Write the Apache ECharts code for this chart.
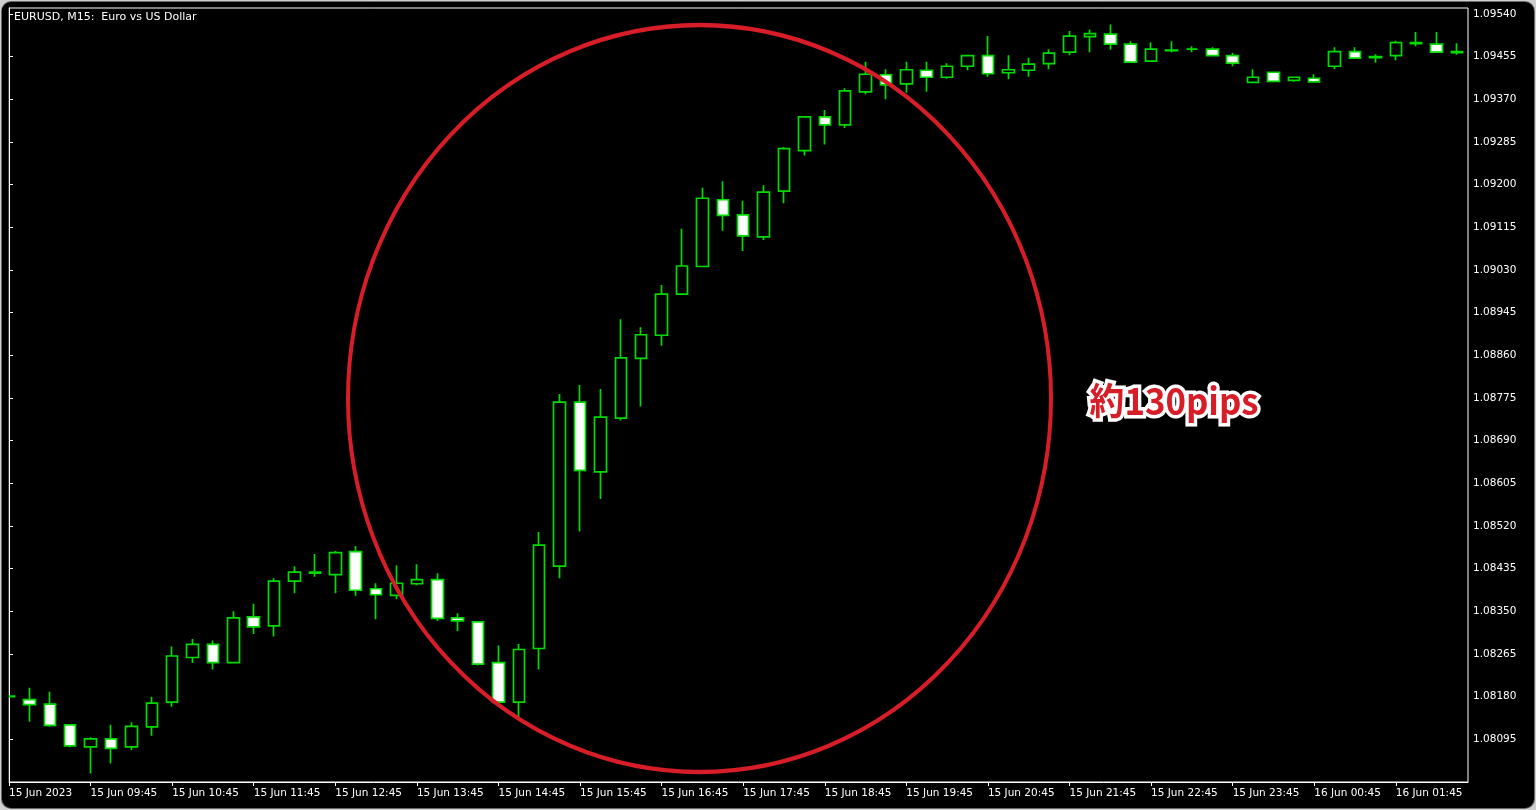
<!DOCTYPE html>
<html><head><meta charset="utf-8">
<script src="https://cdn.jsdelivr.net/npm/echarts@6/dist/echarts.min.js"></script>
<style>
html,body{margin:0;padding:0;width:1536px;height:810px;overflow:hidden;background:#cfcfcf;}
#panel{position:absolute;left:2px;top:2px;width:1532px;height:806px;background:#000;border-radius:9px;box-shadow:0 0 0 1px #6a6a6a;}
#chart{position:absolute;left:0;top:0;width:1536px;height:810px;}
</style></head><body><div id="panel"></div><div id="chart"></div>
<script>
const TITLE = 'EURUSD, M15:  Euro vs US Dollar';
const ANNOTATION = '約130pips';
// one candle per 15 minutes, from 15 Jun 08:45 to 16 Jun 02:30
const OPEN = [1.08180,1.08174,1.08165,1.08124,1.08080,1.08096,1.08080,1.08120,1.08169,1.08258,
  1.08284,1.08248,1.08339,1.08321,1.08410,1.08426,1.08423,1.08469,1.08395,1.08382,
  1.08405,1.08413,1.08337,1.08329,1.08248,1.08169,1.08276,1.08440,1.08767,1.08628,
  1.08735,1.08854,1.08900,1.08982,1.09037,1.09170,1.09140,1.09096,1.09187,1.09268,
  1.09335,1.09319,1.09385,1.09419,1.09401,1.09428,1.09414,1.09436,1.09457,1.09423,
  1.09428,1.09441,1.09464,1.09495,1.09500,1.09480,1.09446,1.09467,1.09470,1.09470,
  1.09457,1.09404,1.09424,1.09408,1.09412,1.09436,1.09465,1.09453,1.09457,1.09481,
  1.09480,1.09463];
const CLOSE = [1.08181,1.08164,1.08123,1.08082,1.08096,1.08077,1.08121,1.08167,1.08261,1.08284,
  1.08248,1.08337,1.08319,1.08410,1.08428,1.08428,1.08467,1.08392,1.08383,1.08406,
  1.08413,1.08336,1.08331,1.08245,1.08169,1.08274,1.08482,1.08767,1.08631,1.08737,
  1.08855,1.08901,1.08982,1.09038,1.09173,1.09139,1.09098,1.09185,1.09272,1.09335,
  1.09319,1.09387,1.09420,1.09399,1.09429,1.09414,1.09436,1.09457,1.09421,1.09429,
  1.09440,1.09462,1.09496,1.09501,1.09480,1.09444,1.09470,1.09468,1.09470,1.09457,
  1.09442,1.09414,1.09406,1.09414,1.09405,1.09465,1.09452,1.09455,1.09483,1.09483,
  1.09464,1.09465];
const LOW = [1.08179,1.08130,1.08120,1.08079,1.08027,1.08047,1.08074,1.08102,1.08160,1.08247,
  1.08234,1.08247,1.08305,1.08300,1.08386,1.08419,1.08386,1.08381,1.08334,1.08374,
  1.08402,1.08331,1.08311,1.08242,1.08161,1.08138,1.08234,1.08416,1.08509,1.08574,
  1.08730,1.08758,1.08879,1.08980,1.09036,1.09108,1.09068,1.09090,1.09163,1.09258,
  1.09280,1.09313,1.09380,1.09370,1.09383,1.09385,1.09411,1.09428,1.09415,1.09410,
  1.09415,1.09430,1.09458,1.09464,1.09469,1.09443,1.09445,1.09464,1.09464,1.09456,
  1.09436,1.09403,1.09405,1.09405,1.09404,1.09430,1.09451,1.09443,1.09448,1.09476,
  1.09463,1.09459];
const HIGH = [1.08182,1.08198,1.08190,1.08125,1.08099,1.08124,1.08129,1.08180,1.08280,1.08295,
  1.08292,1.08350,1.08365,1.08416,1.08440,1.08464,1.08470,1.08480,1.08406,1.08442,
  1.08444,1.08426,1.08346,1.08331,1.08282,1.08285,1.08508,1.08783,1.08801,1.08793,
  1.08932,1.08916,1.09000,1.09112,1.09194,1.09207,1.09168,1.09199,1.09275,1.09337,
  1.09349,1.09392,1.09445,1.09430,1.09445,1.09445,1.09442,1.09458,1.09496,1.09458,
  1.09453,1.09470,1.09506,1.09509,1.09519,1.09486,1.09484,1.09486,1.09476,1.09474,
  1.09463,1.09430,1.09425,1.09415,1.09420,1.09474,1.09474,1.09460,1.09487,1.09504,
  1.09504,1.09482];
// labels at every 4th candle (index 0, 4, 8, ...)
const X_TICK_LABELS = ['15 Jun 2023','15 Jun 09:45','15 Jun 10:45','15 Jun 11:45','15 Jun 12:45',
  '15 Jun 13:45','15 Jun 14:45','15 Jun 15:45','15 Jun 16:45','15 Jun 17:45','15 Jun 18:45',
  '15 Jun 19:45','15 Jun 20:45','15 Jun 21:45','15 Jun 22:45','15 Jun 23:45','16 Jun 00:45','16 Jun 01:45'];
const X_TICK_EVERY = 4;
const X_MAX = 71.54;
const PRICE_BASE = 1.08010;   // bottom of the price scale
const PRICE_TOP = 1.09552;    // top of the price scale
const PRICE_STEP = 0.00085;   // tick step: 1.08095, 1.08180, ... 1.09540

const GREEN = '#00dc00';
const RED = '#d71d27';
const FONT = '"DejaVu Sans", sans-serif';

const chart = echarts.init(document.getElementById('chart'), null, {renderer: 'canvas'});
const candleData = OPEN.map((o, i) => [i, o - PRICE_BASE, CLOSE[i] - PRICE_BASE, LOW[i] - PRICE_BASE, HIGH[i] - PRICE_BASE]);

chart.setOption({
  backgroundColor: 'transparent',
  animation: false,
  grid: {left: 9, right: 68, top: 8, bottom: 28, show: true, borderColor: '#ffffff', borderWidth: 1, backgroundColor: 'transparent'},
  xAxis: {
    type: 'value', min: 0, max: X_MAX, interval: X_TICK_EVERY,
    axisLine: {show: true, lineStyle: {color: '#ffffff', width: 1}},
    axisTick: {show: true, length: 4, lineStyle: {color: '#ffffff'}},
    splitLine: {show: false},
    axisLabel: {
      color: '#ffffff', fontFamily: FONT, fontSize: 10.5, align: 'left', margin: 6,
      showMaxLabel: false, showMinLabel: true,
      formatter: v => { const i = Math.round(v / X_TICK_EVERY); return (Math.abs(v - i * X_TICK_EVERY) < 1e-6 && X_TICK_LABELS[i]) ? X_TICK_LABELS[i] : ''; }
    }
  },
  yAxis: {
    type: 'value', position: 'right', min: 0, max: PRICE_TOP - PRICE_BASE, interval: PRICE_STEP,
    axisLine: {show: true, lineStyle: {color: '#ffffff', width: 1}},
    axisTick: {show: true, length: 4, lineStyle: {color: '#ffffff'}},
    splitLine: {show: false},
    axisLabel: {
      color: '#ffffff', fontFamily: FONT, fontSize: 10.5, margin: 5,
      showMinLabel: false, showMaxLabel: false,
      formatter: v => (PRICE_BASE + v).toFixed(5)
    }
  },
  series: [{
    type: 'candlestick',
    data: candleData,
    barWidth: 12,
    clip: true,
    emphasis: {disabled: true},
    itemStyle: {color: '#000000', color0: '#ffffff', borderColor: GREEN, borderColor0: GREEN, borderColorDoji: GREEN, borderWidth: 1.7}
  }],
  graphic: [
    // mask so the half-visible first candle is cut at the plot's left edge
    {type: 'rect', x: 2, y: 8, z: 40, shape: {width: 6.5, height: 775}, style: {fill: '#000000'}},
    {type: 'text', x: 14, y: 17, z: 50, style: {text: TITLE, fill: '#ffffff', font: '11px ' + FONT, verticalAlign: 'middle', align: 'left'}},
    {type: 'circle', x: 699.5, y: 398.5, scaleY: 373.5 / 351.5, z: 100,
      shape: {cx: 0, cy: 0, r: 351.5},
      style: {fill: 'none', stroke: RED, lineWidth: 4, strokeNoScale: true}},
    {type: 'text', x: 1174, y: 401, z: 101, scaleX: 0.94,
      style: {text: ANNOTATION, fill: RED, stroke: '#ffffff', lineWidth: 7, lineJoin: 'round',
        font: 'bold 37px "Noto Sans CJK JP", sans-serif', align: 'center', verticalAlign: 'middle'}}
  ]
});
</script></body></html>
